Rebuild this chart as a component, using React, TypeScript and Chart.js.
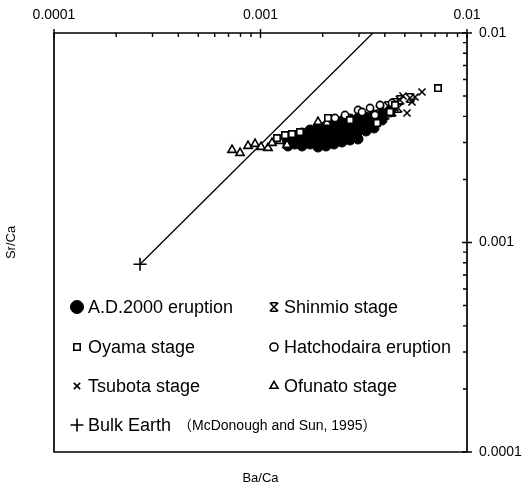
import React, { useEffect, useRef } from "react";
import { Chart, registerables } from "chart.js";
import { drawPoint } from "chart.js/helpers";

Chart.register(...registerables);

const FONT = '"Liberation Sans", Arial, Helvetica, sans-serif';

// axis tick labels (log scales)
const axisTicks = [0.0001, 0.001, 0.01];
const xAxisTitle = "Ba/Ca";
const yAxisTitle = "Sr/Ca";

// series: [Ba/Ca, Sr/Ca]
const ad2000: number[][] = [
  [0.001359, 0.003085], [0.001359, 0.002888],
  [0.001469, 0.003188], [0.001469, 0.002952],
  [0.001589, 0.003332], [0.001589, 0.003085], [0.001589, 0.002888],
  [0.001737, 0.003443], [0.001737, 0.003188], [0.001737, 0.002952],
  [0.001899, 0.00352], [0.001899, 0.003259], [0.001899, 0.003018], [0.001899, 0.002856],
  [0.002076, 0.003599], [0.002076, 0.003332], [0.002076, 0.003085], [0.002076, 0.002888],
  [0.002269, 0.003678], [0.002269, 0.003405], [0.002269, 0.003153], [0.002269, 0.002952],
  [0.002481, 0.003802], [0.002481, 0.00352], [0.002481, 0.003259], [0.002481, 0.003018],
  [0.002713, 0.003886], [0.002713, 0.003599], [0.002713, 0.003332], [0.002713, 0.003085],
  [0.002966, 0.003929], [0.002966, 0.003638], [0.002966, 0.003368], [0.002966, 0.003119],
  [0.003243, 0.003972], [0.003243, 0.003678], [0.003243, 0.003405],
  [0.003545, 0.00406], [0.003545, 0.00376], [0.003545, 0.00352],
  [0.003876, 0.004106], [0.003876, 0.003843],
  [0.004238, 0.004197],
];
const oyama: number[][] = [
  [0.001202, 0.003153], [0.001314, 0.003259], [0.001421, 0.003295], [0.001553, 0.003368],
  [0.002123, 0.003929], [0.002713, 0.003843], [0.003666, 0.003719], [0.004238, 0.004197],
  [0.004481, 0.004532], [0.007238, 0.005463],
];
const hatchodaira: number[][] = [
  [0.002966, 0.00429], [0.003101, 0.004197], [0.002566, 0.00406], [0.003391, 0.004385],
  [0.003791, 0.004532], [0.004334, 0.004633], [0.002295, 0.003929], [0.003585, 0.00406],
];
const shinmio: number[][] = [
  [0.003791, 0.00429], [0.004144, 0.004483], [0.004481, 0.004633], [0.004737, 0.004788],
  [0.004008, 0.00406], [0.004334, 0.004197], [0.003391, 0.003929], [0.005297, 0.004895],
  [0.004633, 0.004385], [0.003033, 0.003843],
];
const tsubota: number[][] = [
  [0.004898, 0.005003], [0.006055, 0.005228], [0.005122, 0.00415], [0.004481, 0.004385],
  [0.005416, 0.004684], [0.004008, 0.00429], [0.003585, 0.004197], [0.005601, 0.004948],
];
const ofunato: number[][] = [
  [0.000728, 0.002764], [0.000796, 0.002674], [0.00087, 0.002888], [0.000941, 0.002952],
  [0.001006, 0.002856], [0.001087, 0.002825], [0.001137, 0.002985], [0.001243, 0.003051],
  [0.001344, 0.00292], [0.001899, 0.00376], [0.002099, 0.003719],
];
const bulkEarth: number[][] = [[0.000261, 0.000787]];
const referenceLine: number[][] = [[0.000261, 0.000787], [0.0035, 0.01]];

const legendLabels = [
  "A.D.2000 eruption", "Shinmio stage",
  "Oyama stage", "Hatchodaira eruption",
  "Tsubota stage", "Ofunato stage",
  "Bulk Earth",
];
const legendNote = "（McDonough and Sun, 1995）";

function makeShinmio(size: number, lw: number): HTMLCanvasElement {
  const c = document.createElement("canvas");
  c.width = size;
  c.height = size;
  const ctx = c.getContext("2d")!;
  ctx.strokeStyle = "#000";
  ctx.lineWidth = lw;
  const p = lw / 2;
  const q = size - lw / 2;
  ctx.beginPath();
  ctx.moveTo(p, p); ctx.lineTo(q, q);
  ctx.moveTo(q, p); ctx.lineTo(p, q);
  ctx.moveTo(p + 1, p); ctx.lineTo(q - 1, p);
  ctx.moveTo(p + 1, q); ctx.lineTo(q - 1, q);
  ctx.stroke();
  return c;
}

const toXY = (arr: number[][]) => arr.map(([x, y]) => ({ x, y }));

export default function App() {
  const ref = useRef<HTMLCanvasElement>(null);
  useEffect(() => {
    if (!ref.current) return;
    const shinmioImg = makeShinmio(10, 1.5);
    const shinmioLegend = makeShinmio(10, 1.6);

    const markers: any = {
      ad: { pointStyle: "circle", radius: 6.5, bg: "#000", bw: 1 },
      shin: { pointStyle: shinmioLegend, radius: 5, bg: "#fff", bw: 1.5 },
      oya: { pointStyle: "rect", radius: 4.5, bg: "#fff", bw: 1.6 },
      hat: { pointStyle: "circle", radius: 4, bg: "#fff", bw: 1.6 },
      tsu: { pointStyle: "crossRot", radius: 4.5, bg: "#fff", bw: 1.6 },
      ofu: { pointStyle: "triangle", radius: 4.6, bg: "#fff", bw: 1.6 },
      bulk: { pointStyle: "cross", radius: 6.5, bg: "#fff", bw: 1.6 },
    };

    const framePlugin = {
      id: "frame",
      afterDraw(chart: any) {
        const ctx = chart.ctx as CanvasRenderingContext2D;
        const { left, right, top, bottom } = chart.chartArea;
        const xs = chart.scales.x;
        const ys = chart.scales.y;
        ctx.save();
        ctx.strokeStyle = "#000";
        ctx.fillStyle = "#000";
        ctx.lineWidth = 1.7;
        ctx.beginPath();
        ctx.moveTo(left, top);
        ctx.lineTo(right, top);
        ctx.lineTo(right, bottom);
        ctx.lineTo(left, bottom);
        ctx.closePath();
        ctx.stroke();
        // tick marks
        ctx.lineWidth = 1.4;
        ctx.beginPath();
        for (let e = -4; e <= -2; e++) {
          for (let k = 1; k <= 9; k++) {
            const v = k * Math.pow(10, e);
            if (v > 0.01 * 1.0001) break;
            const major = k === 1;
            const px = xs.getPixelForValue(v);
            ctx.moveTo(px, major ? top - 4 : top);
            ctx.lineTo(px, top + (major ? 5 : 4));
            const py = ys.getPixelForValue(v);
            ctx.moveTo(major ? right + 5 : right, py);
            ctx.lineTo(right - (major ? 5 : 4), py);
          }
        }
        ctx.stroke();
        // axis titles
        ctx.font = `13px ${FONT}`;
        ctx.textAlign = "center";
        ctx.textBaseline = "middle";
        ctx.fillText(xAxisTitle, (left + right) / 2, 478);
        ctx.save();
        ctx.translate(11, (top + bottom) / 2);
        ctx.rotate(-Math.PI / 2);
        ctx.fillText(yAxisTitle, 0, 0);
        ctx.restore();
        // legend
        const keys = ["ad", "shin", "oya", "hat", "tsu", "ofu", "bulk"];
        const rowsY = [307, 347, 386, 425];
        const colMarkX = [77, 274];
        const colTextX = [88, 284];
        ctx.textAlign = "left";
        ctx.font = `18px ${FONT}`;
        keys.forEach((k, i) => {
          const row = Math.floor(i / 2);
          const col = i % 2;
          const m = markers[k];
          const y = rowsY[row];
          ctx.save();
          ctx.fillStyle = m.bg;
          ctx.strokeStyle = "#000";
          ctx.lineWidth = m.bw;
          drawPoint(ctx, { pointStyle: m.pointStyle, radius: m.radius, rotation: 0, borderWidth: m.bw } as any, colMarkX[col], y);
          ctx.restore();
          ctx.fillText(legendLabels[i], colTextX[col], y + 1);
        });
        ctx.font = `14px ${FONT}, "Noto Sans CJK JP"`;
        ctx.fillText(legendNote, 178, 426);
        ctx.restore();
      },
    };

    const chart = new Chart(ref.current, {
      type: "scatter",
      data: {
        datasets: [
          { label: "Oyama stage", data: toXY(oyama), pointStyle: "rect", pointRadius: 4.5, backgroundColor: "#fff", borderColor: "#000", borderWidth: 1.6 },
          { label: "Ofunato stage", data: toXY(ofunato), pointStyle: "triangle", pointRadius: 4.8, backgroundColor: "#fff", borderColor: "#000", borderWidth: 1.6 },
          { label: "Hatchodaira eruption", data: toXY(hatchodaira), pointStyle: "circle", pointRadius: 3.6, backgroundColor: "#fff", borderColor: "#000", borderWidth: 1.6 },
          { label: "Tsubota stage", data: toXY(tsubota), pointStyle: "crossRot", pointRadius: 5, backgroundColor: "#fff", borderColor: "#000", borderWidth: 1.6 },
          { label: "Shinmio stage", data: toXY(shinmio), pointStyle: shinmioImg as any, pointRadius: 5, backgroundColor: "#fff", borderColor: "#000", borderWidth: 1.5 },
          { label: "A.D.2000 eruption", data: toXY(ad2000), pointStyle: "circle", pointRadius: 5, backgroundColor: "#000", borderColor: "#000", borderWidth: 1 },
          { label: "Bulk Earth", data: toXY(bulkEarth), pointStyle: "cross", pointRadius: 6.5, backgroundColor: "#fff", borderColor: "#000", borderWidth: 1.6 },
          { label: "line", data: toXY(referenceLine), showLine: true, pointRadius: 0, borderColor: "#000", borderWidth: 1.3, backgroundColor: "#000" },
        ],
      },
      options: {
        animation: false,
        responsive: false,
        layout: { padding: { left: 54, right: 0, top: 0, bottom: 37 } },
        plugins: { legend: { display: false }, tooltip: { enabled: false } },
        scales: {
          x: {
            type: "logarithmic",
            position: "top",
            min: 0.0001,
            max: 0.01,
            grid: { display: false, drawTicks: false, tickLength: 0 },
            border: { display: false },
            afterBuildTicks: (s: any) => { s.ticks = axisTicks.map((v) => ({ value: v })); },
            afterFit: (s: any) => { s.height = 33; },
            ticks: {
              autoSkip: false,
              maxRotation: 0,
              padding: 9,
              color: "#000",
              font: { family: FONT, size: 14 },
              callback: (v: any) => String(v),
            },
          },
          y: {
            type: "logarithmic",
            position: "right",
            min: 0.0001,
            max: 0.01,
            grid: { display: false, drawTicks: false, tickLength: 0 },
            border: { display: false },
            afterBuildTicks: (s: any) => { s.ticks = axisTicks.map((v) => ({ value: v })); },
            afterFit: (s: any) => { s.width = 55; },
            ticks: {
              autoSkip: false,
              padding: 12,
              color: "#000",
              font: { family: FONT, size: 14 },
              callback: (v: any) => String(v),
            },
          },
        },
      },
      plugins: [framePlugin],
    });
    return () => chart.destroy();
  }, []);

  return (
    <div style={{ position: "absolute", left: 0, top: 0, width: 522, height: 489, background: "#fff" }}>
      <canvas ref={ref} width={522} height={489} style={{ width: 522, height: 489, display: "block" }} />
    </div>
  );
}
